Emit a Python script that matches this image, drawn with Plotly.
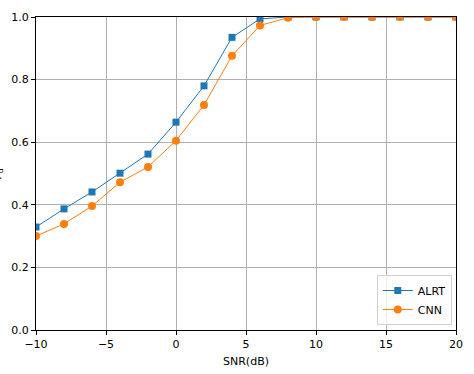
import plotly.graph_objects as go

# SNR sweep and detection probability for the two detectors
snr = [-10, -8, -6, -4, -2, 0, 2, 4, 6, 8, 10, 12, 14, 16, 18, 20]
alrt = [0.329, 0.387, 0.441, 0.501, 0.562, 0.664, 0.780, 0.935, 0.994, 1.0, 1.0, 1.0, 1.0, 1.0, 1.0, 1.0]
cnn = [0.300, 0.339, 0.396, 0.472, 0.521, 0.605, 0.719, 0.876, 0.973, 0.998, 1.0, 1.0, 1.0, 1.0, 1.0, 1.0]

fig = go.Figure()

fig.add_trace(go.Scatter(x=snr, y=alrt, mode='lines+markers', name='ALRT',
                         line=dict(color='#1f77b4', width=1),
                         marker=dict(symbol='square', size=7, color='#1f77b4')))
fig.add_trace(go.Scatter(x=snr, y=cnn, mode='lines+markers', name='CNN',
                         line=dict(color='#ff7f0e', width=1),
                         marker=dict(symbol='circle', size=8, color='#ff7f0e')))

axis_style = dict(showline=True, linecolor='black', linewidth=1, mirror=True,
                  showgrid=True, gridcolor='#b0b0b0', gridwidth=1, zeroline=False,
                  ticks='outside', ticklen=4, tickcolor='black', automargin=False,
                  tickfont=dict(family='DejaVu Sans', size=11, color='black'))

fig.update_xaxes(range=[-10, 20], tickmode='array', tickvals=[-10, -5, 0, 5, 10, 15, 20],
                 title=dict(text='SNR(dB)', font=dict(family='DejaVu Sans', size=11, color='black'),
                            standoff=7),
                 **axis_style)
fig.update_yaxes(range=[0, 1], tickmode='array', tickvals=[0, 0.2, 0.4, 0.6, 0.8, 1.0],
                 tickformat='.1f', **axis_style)

# y label mostly cut off at the left edge, as in the original
fig.add_annotation(text='P<sub>d</sub>', xref='paper', yref='paper', x=-0.092, y=0.5,
                   xanchor='center', yanchor='middle',
                   textangle=-90, showarrow=False,
                   font=dict(family='DejaVu Sans', size=11, color='black'))

fig.update_layout(width=474, height=374, margin=dict(l=36, r=18, t=17, b=44),
                  plot_bgcolor='white', paper_bgcolor='white',
                  legend=dict(x=0.99, y=0.016, xanchor='right', yanchor='bottom',
                              bgcolor='rgba(255,255,255,0.8)', bordercolor='#d0d0d0', borderwidth=1,
                              font=dict(family='DejaVu Sans', size=11, color='black'),
                              itemwidth=30, tracegroupgap=0))

fig.write_html("out.html", config={'displayModeBar': False},
               post_script="document.body.style.margin='0px';")
